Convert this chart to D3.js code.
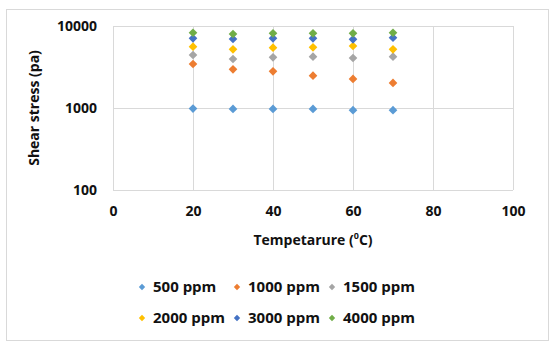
<!DOCTYPE html>
<html>
<head>
<meta charset="utf-8" />
<script src="https://d3js.org/d3.v7.min.js"></script>
<style>
  body { margin: 0; background: #fff; }
  text { font-family: "Open Sans", "Noto Sans", sans-serif; font-weight: 700; fill: #111; }
</style>
</head>
<body>
<svg id="chart" width="555" height="351"></svg>
<script>
// temperatures (x)
const temps = [20, 30, 40, 50, 60, 70];
// series names
const seriesNames = ["500 ppm", "1000 ppm", "1500 ppm", "2000 ppm", "3000 ppm", "4000 ppm"];
const seriesColors = ["#5B9BD5", "#ED7D31", "#A5A5A5", "#FFC000", "#4472C4", "#70AD47"];
// shear stress values (pa) for each series
const s500 = [985, 975, 975, 975, 940, 940];
const s1000 = [3440, 2960, 2800, 2480, 2260, 2020];
const s1500 = [4430, 3960, 4150, 4230, 4070, 4230];
const s2000 = [5600, 5200, 5440, 5500, 5700, 5200];
const s3000 = [7080, 6940, 7080, 7080, 6880, 7200];
const s4000 = [8280, 7990, 8130, 8130, 8130, 8280];
const allSeries = [s500, s1000, s1500, s2000, s3000, s4000];
const xTicks = [0, 20, 40, 60, 80, 100];
const yTicks = [100, 1000, 10000];

const svg = d3.select("#chart");
const margin = { left: 113, top: 26, right: 513, bottom: 190 };

// outer chart border
svg.append("rect")
  .attr("x", 6.5).attr("y", 9.5)
  .attr("width", 542).attr("height", 331)
  .attr("fill", "none").attr("stroke", "#d9d9d9");

const x = d3.scaleLinear().domain([0, 100]).range([margin.left, margin.right]);
const y = d3.scaleLog().domain([100, 10000]).range([margin.bottom, margin.top]);

// gridlines
svg.append("g").selectAll("line").data(xTicks).join("line")
  .attr("x1", d => Math.round(x(d)) + 0.5).attr("x2", d => Math.round(x(d)) + 0.5)
  .attr("y1", margin.top).attr("y2", margin.bottom)
  .attr("stroke", "#d9d9d9");
svg.append("g").selectAll("line").data(yTicks).join("line")
  .attr("y1", d => Math.round(y(d)) + 0.5).attr("y2", d => Math.round(y(d)) + 0.5)
  .attr("x1", margin.left).attr("x2", margin.right)
  .attr("stroke", "#d9d9d9");

// axes labels
const xAxis = svg.append("g")
  .attr("transform", `translate(0,${margin.bottom})`)
  .call(d3.axisBottom(x).tickValues(xTicks).tickSize(0).tickPadding(16));
xAxis.select(".domain").remove();
xAxis.selectAll("text").style("font-size", "14px").attr("fill", "#111");

const yAxis = svg.append("g")
  .attr("transform", `translate(${margin.left},0)`)
  .call(d3.axisLeft(y).tickValues(yTicks).tickFormat(d3.format("d")).tickSize(0).tickPadding(16));
yAxis.select(".domain").remove();
yAxis.selectAll("text").style("font-size", "14px").attr("fill", "#111");

// axis titles
const xt = svg.append("text")
  .attr("x", x(50)).attr("y", 245)
  .attr("text-anchor", "middle")
  .style("font-size", "14px");
xt.append("tspan").text("Tempetarure (");
xt.append("tspan").attr("dy", -6).style("font-size", "9px").text("0");
xt.append("tspan").attr("dy", 6).text("C)");

svg.append("text")
  .attr("transform", `translate(39,${(margin.top + margin.bottom) / 2}) rotate(-90)`)
  .attr("text-anchor", "middle")
  .style("font-size", "14px")
  .text("Shear stress (pa)");

// points
const diamond = d3.symbol().type(d3.symbolDiamond2).size(48);
allSeries.forEach((vals, i) => {
  svg.append("g").selectAll("path").data(vals).join("path")
    .attr("d", diamond)
    .attr("transform", (d, j) => `translate(${x(temps[j])},${y(d)})`)
    .attr("fill", seriesColors[i]);
});

// legend
const legendX = [142, 237, 332];
const legendY = [287, 318];
const smallDiamond = d3.symbol().type(d3.symbolDiamond2).size(26);
seriesNames.forEach((name, i) => {
  const lx = legendX[i % 3], ly = legendY[Math.floor(i / 3)];
  svg.append("path").attr("d", smallDiamond)
    .attr("transform", `translate(${lx},${ly})`)
    .attr("fill", seriesColors[i]);
  svg.append("text").attr("x", lx + 11).attr("y", ly + 5)
    .style("font-size", "15px").text(name);
});
</script>
</body>
</html>
